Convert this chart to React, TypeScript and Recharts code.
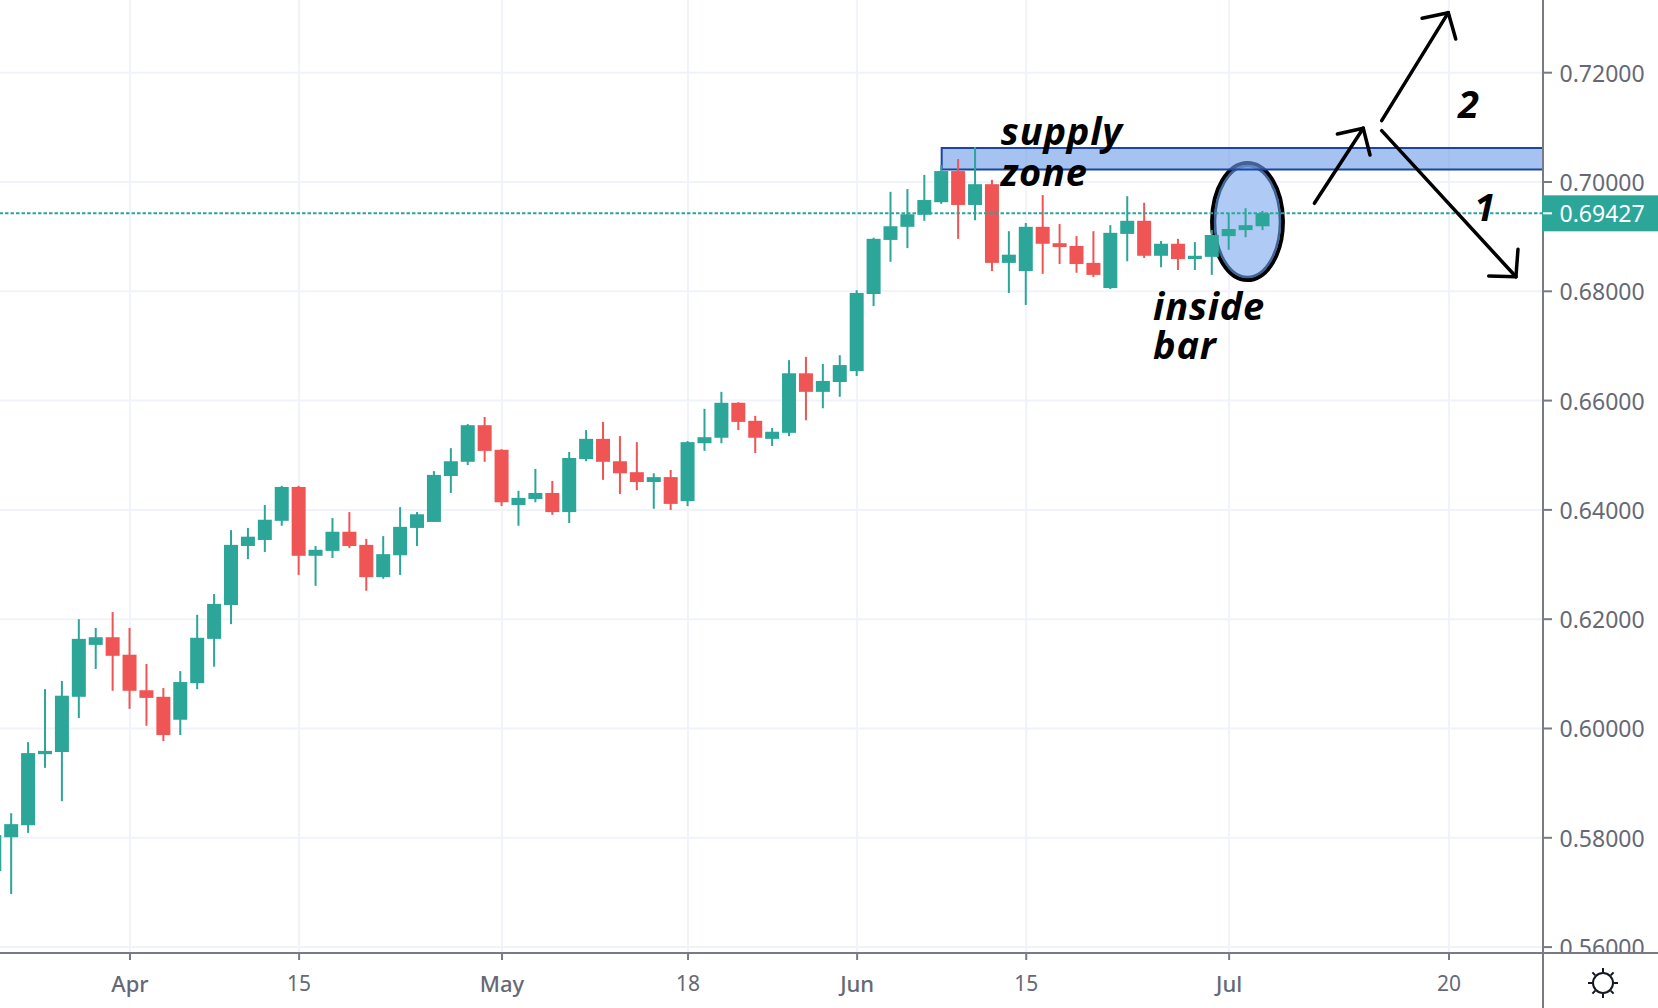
import React from 'react';
import { ComposedChart, Bar, XAxis, YAxis, CartesianGrid, ReferenceArea, ReferenceLine, ReferenceDot } from 'recharts';

const firstBar = -8;
const opens = [0.5739,0.5801,0.5823,0.5953,0.5957,0.6058,0.6153,0.6167,0.6135,0.6070,0.6058,0.6016,0.6083,0.6164,0.6226,0.6334,0.6345,0.6380,0.6442,0.6316,0.6325,0.6360,0.6336,0.6277,0.6317,0.6367,0.6378,0.6462,0.6488,0.6555,0.6510,0.6409,0.6420,0.6431,0.6396,0.6493,0.6530,0.6489,0.6469,0.6451,0.6460,0.6416,0.6522,0.6532,0.6596,0.6563,0.6530,0.6541,0.6650,0.6616,0.6634,0.6654,0.6795,0.6894,0.6918,0.6940,0.6963,0.7020,0.6958,0.6996,0.6852,0.6837,0.6918,0.6888,0.6883,0.6852,0.6806,0.6905,0.6929,0.6865,0.6887,0.6859,0.6863,0.6901,0.6912,0.6919];
const highs = [0.5805,0.5845,0.5975,0.6072,0.6087,0.6200,0.6184,0.6213,0.6184,0.6118,0.6074,0.6105,0.6208,0.6246,0.6363,0.6367,0.6409,0.6444,0.6444,0.6334,0.6385,0.6396,0.6347,0.6352,0.6405,0.6396,0.6471,0.6513,0.6557,0.6570,0.6511,0.6435,0.6475,0.6453,0.6506,0.6546,0.6561,0.6535,0.6524,0.6467,0.6473,0.6526,0.6585,0.6616,0.6597,0.6572,0.6550,0.6674,0.6680,0.6667,0.6683,0.6802,0.6898,0.6982,0.6987,0.7013,0.7031,0.7042,0.7064,0.7004,0.6910,0.6925,0.6976,0.6923,0.6901,0.6910,0.6921,0.6974,0.6962,0.6892,0.6896,0.6890,0.6912,0.6942,0.6952,0.6947];
const lows = [0.5739,0.5697,0.5809,0.5928,0.5867,0.6019,0.6109,0.6069,0.6036,0.6005,0.5977,0.5988,0.6072,0.6113,0.6191,0.6310,0.6323,0.6371,0.6281,0.6261,0.6312,0.6330,0.6252,0.6274,0.6281,0.6334,0.6378,0.6431,0.6482,0.6488,0.6407,0.6371,0.6414,0.6391,0.6376,0.6489,0.6455,0.6429,0.6436,0.6402,0.6400,0.6407,0.6508,0.6522,0.6546,0.6504,0.6517,0.6535,0.6564,0.6586,0.6607,0.6645,0.6773,0.6854,0.6879,0.6929,0.6960,0.6896,0.6930,0.6837,0.6797,0.6775,0.6832,0.6850,0.6834,0.6826,0.6804,0.6855,0.6861,0.6844,0.6839,0.6839,0.6830,0.6876,0.6899,0.6912];
const closes = [0.5805,0.5825,0.5955,0.5959,0.6060,0.6164,0.6167,0.6133,0.6069,0.6056,0.5988,0.6085,0.6166,0.6228,0.6336,0.6351,0.6382,0.6442,0.6316,0.6327,0.6360,0.6334,0.6277,0.6319,0.6369,0.6392,0.6464,0.6489,0.6555,0.6508,0.6414,0.6422,0.6431,0.6396,0.6495,0.6530,0.6488,0.6467,0.6451,0.6460,0.6411,0.6524,0.6533,0.6596,0.6561,0.6532,0.6543,0.6650,0.6616,0.6636,0.6665,0.6797,0.6896,0.6919,0.6941,0.6967,0.7020,0.6958,0.6996,0.6852,0.6867,0.6918,0.6887,0.6881,0.6850,0.6830,0.6907,0.6929,0.6865,0.6887,0.6859,0.6865,0.6903,0.6914,0.6921,0.6943];

const dateTicks = [0, 10, 22, 33, 43, 53, 65, 78];
const dateLabels = ['Apr', '15', 'May', '18', 'Jun', '15', 'Jul', '20'];
const monthLabels = ['Apr', 'May', 'Jun', 'Jul'];
const priceTicks = [0.56, 0.58, 0.6, 0.62, 0.64, 0.66, 0.68, 0.7, 0.72];
const lastPrice = 0.69427;

const xDomain = [-7.688, 83.56];
const yDomain = [0.55892, 0.733303];

const zone = { x1: 48, x2: 83.56, y1: 0.7023, y2: 0.7062 };
const ellipse = { x1: 63.87, x2: 68.3, y1: 0.6817, y2: 0.70385 };

const arrowStrokes = [
  [70.04, 0.6961, 72.93, 0.70983],
  [71.4, 0.70878, 72.93, 0.70983],
  [72.93, 0.70983, 73.33, 0.70494],
  [74.02, 0.71122, 77.96, 0.73098],
  [76.41, 0.72995, 77.96, 0.73098],
  [77.96, 0.73098, 78.4, 0.72617],
  [74.02, 0.70939, 81.96, 0.68267],
  [80.35, 0.6828, 81.96, 0.68267],
  [81.96, 0.68267, 82.08, 0.68769],
];

const notes = [
  { text: 'supply', x: 51.5, y: 0.7068 },
  { text: 'zone', x: 51.5, y: 0.69927 },
  { text: 'inside', x: 60.5, y: 0.6747 },
  { text: 'bar', x: 60.5, y: 0.6676 },
  { text: '2', x: 78.53, y: 0.71171 },
  { text: '1', x: 79.5, y: 0.6928 },
];

const rows = opens.map((open, i) => ({
  bar: firstBar + i,
  open,
  high: highs[i],
  low: lows[i],
  close: closes[i],
  range: [lows[i], highs[i]],
}));

const UP = '#2da69a';
const DOWN = '#f05555';
const AXIS = '#787b86';
const GRID = '#f0f3fa';
const TEXT = '#666975';
const FONT = '"Noto Sans", sans-serif';

function Candle(props: any) {
  const { x, y, width, height, payload } = props;
  if (height == null) return null;
  const perUnit = height / (payload.high - payload.low);
  const top = y + (payload.high - Math.max(payload.open, payload.close)) * perUnit;
  const bottom = y + (payload.high - Math.min(payload.open, payload.close)) * perUnit;
  const color = payload.close >= payload.open ? UP : DOWN;
  const cx = x + width / 2;
  return (
    <g>
      <rect x={cx - 1} y={y} width={2} height={Math.max(height, 0)} fill={color} />
      <rect x={cx - 7} y={top} width={14} height={Math.max(bottom - top, 1)} fill={color} />
    </g>
  );
}

function PriceTick(props: any) {
  const { x, y, payload } = props;
  const isLast = payload.value === lastPrice;
  const label = Number(payload.value).toFixed(5);
  return (
    <g>
      <clipPath id={`pt-${label}`}>
        <rect x={x - 2} y={0} width={120} height={952} />
      </clipPath>
      <g clipPath={`url(#pt-${label})`}>
        {isLast && <rect x={x - 1} y={y - 18} width={117} height={36} fill={UP} />}
        <rect x={x} y={y - 1} width={9} height={2} fill={isLast ? '#ffffff' : AXIS} />
        <text x={x + 16.5} y={y} dominantBaseline="central" fontFamily={FONT} fontSize={23} fill={isLast ? '#ffffff' : TEXT}>
          {label}
        </text>
      </g>
    </g>
  );
}

function DateTick(props: any) {
  const { x, y, payload } = props;
  const label = dateLabels[dateTicks.indexOf(payload.value)];
  const isMonth = monthLabels.includes(label);
  return (
    <text x={x} y={y + 21} textAnchor="middle" dominantBaseline="central" fontFamily={FONT} fontSize={isMonth ? 22 : 21} fontWeight={isMonth ? 500 : 400} fill={TEXT}>
      {label}
    </text>
  );
}

function EllipseShape(props: any) {
  const { x, y, width, height } = props;
  const cx = x + width / 2;
  const cy = y + height / 2;
  return (
    <g>
      <ellipse cx={cx} cy={cy} rx={width / 2 - 2} ry={height / 2 - 2} fill="#afcaf4" stroke="#000000" strokeWidth={4} />
      <ellipse cx={cx} cy={cy} rx={width / 2 - 5} ry={height / 2 - 5} fill="none" stroke="#3f6595" strokeWidth={2.5} />
    </g>
  );
}

function NoteShape(text: string) {
  return (props: any) => (
    <text x={props.cx} y={props.cy} fontFamily='"Open Sans", sans-serif' fontStyle="italic" fontWeight={700} fontSize={38} letterSpacing={0.8} fill="#000000">
      {text}
    </text>
  );
}

function Sun() {
  const rays = [0, 45, 90, 135, 180, 225, 270, 315];
  return (
    <svg width={34} height={34} viewBox="-17 -17 34 34" style={{ position: 'absolute', left: 1586, top: 966 }}>
      <circle cx={0} cy={0} r={10} fill="none" stroke="#131722" strokeWidth={2} />
      {rays.map((a) => (
        <line key={a} x1={0} y1={-11} x2={0} y2={-15} stroke="#131722" strokeWidth={2} transform={`rotate(${a})`} />
      ))}
    </svg>
  );
}

export default function App() {
  return (
    <div style={{ position: 'absolute', left: 0, top: 0, width: 1658, height: 1008, background: '#ffffff', overflow: 'hidden' }}>
      <ComposedChart width={1658} height={1008} data={rows} margin={{ top: 0, right: 0, bottom: 0, left: 0 }}>
        <CartesianGrid stroke={GRID} strokeWidth={2} horizontalValues={priceTicks} verticalValues={dateTicks} />
        <XAxis
          dataKey="bar"
          type="number"
          domain={xDomain}
          allowDataOverflow
          ticks={dateTicks}
          interval={0}
          height={55}
          tick={<DateTick />}
          tickSize={7}
          tickLine={{ stroke: AXIS, strokeWidth: 2 }}
          axisLine={{ stroke: AXIS, strokeWidth: 2 }}
        />
        <YAxis
          orientation="right"
          type="number"
          domain={yDomain}
          allowDataOverflow
          ticks={[...priceTicks, lastPrice]}
          interval={0}
          width={115}
          tick={<PriceTick />}
          tickSize={0}
          tickMargin={0}
          tickLine={false}
          axisLine={{ stroke: AXIS, strokeWidth: 2 }}
        />
        <ReferenceArea x1={ellipse.x1} x2={ellipse.x2} y1={ellipse.y1} y2={ellipse.y2} shape={<EllipseShape />} />
        <ReferenceArea x1={zone.x1} x2={zone.x2} y1={zone.y1} y2={zone.y2} fill="#6d9de8" fillOpacity={0.62} stroke="#1b44a5" strokeWidth={2} />
        <Bar dataKey="range" barSize={14} shape={<Candle />} isAnimationActive={false} />
        <ReferenceLine y={lastPrice} stroke={UP} strokeWidth={2} strokeDasharray="3.5 2" />
        {arrowStrokes.map((s, i) => (
          <ReferenceLine key={i} segment={[{ x: s[0], y: s[1] }, { x: s[2], y: s[3] }]} stroke="#000000" strokeWidth={3.5} strokeLinecap="round" />
        ))}
        {notes.map((n) => (
          <ReferenceDot key={n.text} x={n.x} y={n.y} r={1} shape={NoteShape(n.text)} />
        ))}
      </ComposedChart>
      <div style={{ position: 'absolute', left: 1542, top: 952, width: 116, height: 2, background: AXIS }} />
      <div style={{ position: 'absolute', left: 1542, top: 952, width: 2, height: 56, background: AXIS }} />
      <Sun />
    </div>
  );
}
